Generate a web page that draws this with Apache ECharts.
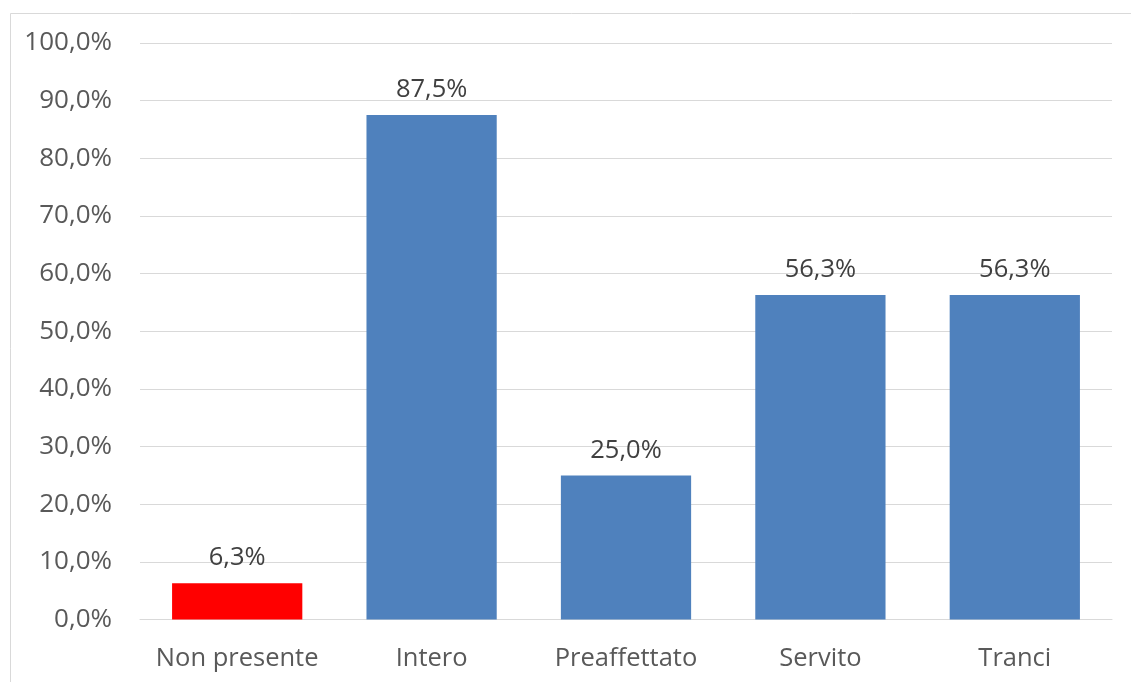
<!DOCTYPE html>
<html>
<head>
<meta charset="utf-8">
<script src="https://cdn.jsdelivr.net/npm/echarts@6/dist/echarts.min.js"></script>
<style>
  html, body { margin: 0; padding: 0; background: #fff; }
  #chart { width: 1131px; height: 682px; }
</style>
</head>
<body>
<div id="chart"></div>
<script>
// Categories and percentage values
const categories = ['Non presente', 'Intero', 'Preaffettato', 'Servito', 'Tranci'];
const values = [6.3, 87.5, 25.0, 56.3, 56.3];
const barColors = ['#FF0000', '#4F81BD', '#4F81BD', '#4F81BD', '#4F81BD'];

const fmtPct = v => Number(v).toFixed(1).replace('.', ',') + '%';
const FONT = '"Open Sans", sans-serif';
const TEXT = '#595959';
const GRID = '#D9D9D9';

const chart = echarts.init(document.getElementById('chart'));
chart.setOption({
  animation: false,
  backgroundColor: '#fff',
  graphic: [{
    type: 'rect',
    left: 8, top: 11,
    shape: { width: 1200, height: 700 },
    style: { fill: 'none', stroke: GRID, lineWidth: 1 },
    silent: true, z: -1
  }],
  grid: { left: 140, right: 19, top: 43, bottom: 62.5, containLabel: false },
  xAxis: {
    type: 'category',
    data: categories,
    axisLine: { show: true, lineStyle: { color: GRID, width: 1 } },
    axisTick: { show: false },
    axisLabel: { color: TEXT, fontFamily: FONT, fontSize: 25.5, margin: 26, interval: 0 }
  },
  yAxis: {
    type: 'value',
    min: 0, max: 100, interval: 10,
    axisLine: { show: false },
    axisTick: { show: false },
    splitLine: { lineStyle: { color: GRID, width: 1 } },
    axisLabel: { color: TEXT, fontFamily: FONT, fontSize: 26, margin: 28, formatter: fmtPct }
  },
  series: [{
    type: 'bar',
    data: values.map((v, i) => ({ value: v, itemStyle: { color: barColors[i] } })),
    barCategoryGap: '33%',
    label: {
      show: true, position: 'top', distance: 12,
      color: '#404040', fontFamily: FONT, fontSize: 25.5,
      formatter: p => fmtPct(p.value)
    }
  }]
});
</script>
</body>
</html>
